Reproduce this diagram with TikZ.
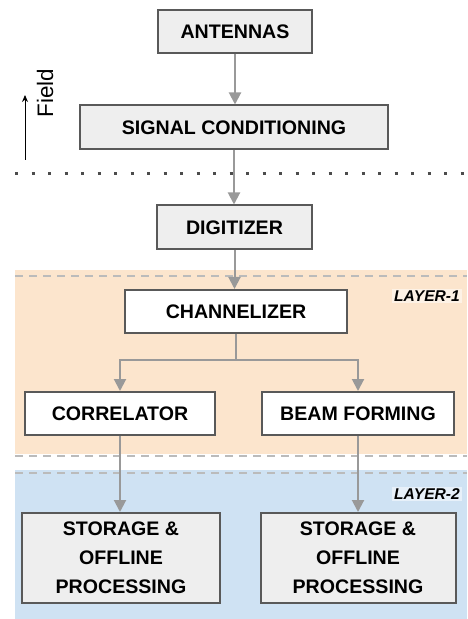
\documentclass[tikz,border=0pt]{standalone}
\usepackage{fontspec}
\setmainfont{Liberation Sans}
\usetikzlibrary{arrows.meta}
\definecolor{layerone}{HTML}{FCE5CD}
\definecolor{layertwo}{HTML}{CFE2F3}
\definecolor{boxgray}{HTML}{EEEEEE}
\definecolor{edgegray}{HTML}{595959}
\definecolor{arrowgray}{HTML}{999999}
\definecolor{dashgray}{HTML}{BBBBBB}
\tikzset{
  blk/.style={draw=edgegray, line width=1pt, fill=boxgray, inner sep=0pt,
    font=\fontsize{9.8}{14.4}\selectfont\bfseries, align=center, minimum height=22pt},
  wblk/.style={blk, fill=white},
  flow/.style={draw=arrowgray, line width=1pt, -{Triangle[width=6pt,length=6pt]}},
  sep/.style={dashgray, line width=1pt, dash pattern=on 4pt off 3pt},
  tag/.style={font=\fontsize{7.8}{9}\selectfont\bfseries\itshape, fill=white,
    fill opacity=.5, text opacity=1, inner sep=1pt}
}
\begin{document}
\begin{tikzpicture}[x=.5pt, y=-.5pt]
\useasboundingbox (0,0) rectangle (467,619);
\fill[layerone] (15,270) rectangle (467,454);
\fill[layertwo] (15,470) rectangle (467,619);
\draw[sep] (15,276)--(467,276);
\draw[sep] (15,456)--(467,456);
\draw[sep] (15,473)--(467,473);
\draw[black!70, line width=1.5pt, dash pattern=on 1.5pt off 6.75pt] (15,174)--(467,174);
\node (lay1) at (427,296) [tag] {LAYER-1};
\node (lay2) at (427,494) [tag] {LAYER-2};
% field side
\coordinate (fbot) at (25,160);
\coordinate (ftop) at (25,95);
\draw[line width=.5pt, -{Stealth[width=3pt,length=3.5pt]}] (fbot)--(ftop);
\node (field) at (45,93) [rotate=90, font=\fontsize{11.2}{13}\selectfont] {Field};
% blocks
\node (ant) at (235,31.5) [blk, minimum width=77pt, minimum height=21.5pt] {ANTENNAS};
\node (sig) at (234,127.5) [blk, minimum width=154pt] {SIGNAL CONDITIONING};
\node (dig) at (234.5,227.5) [blk, minimum width=77.5pt] {DIGITIZER};
\node (chan) at (236,311.5) [wblk, minimum width=111pt, minimum height=21.5pt] {CHANNELIZER};
\node (cor) at (120,413.5) [wblk, minimum width=95pt, minimum height=21.5pt] {CORRELATOR};
\node (beam) at (358,413.5) [wblk, minimum width=96pt, minimum height=21.5pt] {BEAM FORMING};
\node (stl) at (121,558) [blk, minimum width=99pt, minimum height=45pt] {STORAGE \&\\OFFLINE\\PROCESSING};
\node (str) at (358,558) [blk, minimum width=97.5pt, minimum height=45pt] {STORAGE \&\\OFFLINE\\PROCESSING};
% arrows
\draw[flow] (ant.south)--(ant.south |- sig.north);
\draw[flow] (sig.south)--(sig.south |- dig.north);
\draw[flow] (dig.south)--(dig.south |- chan.north);
\coordinate (splity) at (0,360);
\coordinate (split) at (chan.south |- splity);
\draw[arrowgray, line width=1pt] (chan.south)--(split);
\draw[flow] (split) -| (cor.north);
\draw[flow] (split) -| (beam.north);
\draw[flow] (cor.south)--(cor.south |- stl.north);
\draw[flow] (beam.south)--(beam.south |- str.north);
\end{tikzpicture}
\end{document}
